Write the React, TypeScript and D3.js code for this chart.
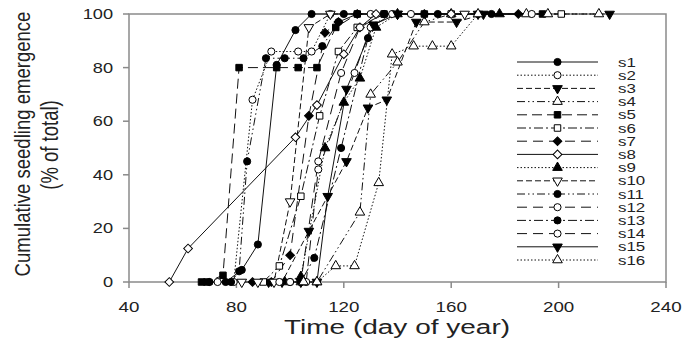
import React from "react";
import * as d3 from "d3";

const WIDTH = 683;
const HEIGHT = 343;
const PLOT = { left: 129, right: 666, top: 14, bottom: 282 };
const FONT = "'Liberation Sans', Arial, sans-serif";

// day of year, cumulative emergence (%)
const s1 = [[70, 0], [76, 0], [82, 4.5], [88, 14], [95, 81], [102, 94], [108, 100], [120, 100], [135, 100]];
const s2 = [[73, 0], [79, 0], [86, 68], [93, 86], [103, 86], [108, 86], [115, 100], [130, 100], [145, 100]];
const s3 = [[92, 0], [97, 0], [107, 19], [121, 45], [129, 65], [136, 68], [147, 97], [162, 97], [172, 100], [219, 100]];
const s4 = [[104, 0], [110, 0], [126, 26], [130, 70], [140, 82], [150, 97], [160, 100], [188, 100]];
const s5 = [[67, 0], [69, 0], [75, 2.5], [81, 80], [95, 80], [103, 80], [110, 80], [117, 95], [125, 100], [150, 100], [194, 100]];
const s6 = [[90, 0], [96, 6], [104, 32], [111, 62], [118, 86], [125, 95], [135, 100], [160, 100], [201, 100]];
const s7 = [[86, 0], [93, 0], [100, 10], [107, 62], [113, 93], [118, 97], [125, 100], [150, 100], [185, 100]];
const s8 = [[55, 0], [62, 12.5], [102, 54], [110, 66], [120, 85], [126, 95], [132, 100], [160, 100]];
const s9 = [[98, 0], [104, 2], [113, 50], [120, 67], [126, 76], [132, 95], [140, 100], [178, 100]];
const s10 = [[82, 0], [88, 0], [94, 0], [100, 30], [107, 95], [115, 100], [140, 100], [165, 100]];
const s11 = [[78, 0], [81, 4], [84, 45], [91, 83.5], [98, 83.5], [105, 83.5], [112, 88], [118, 97], [125, 100], [155, 100]];
const s12 = [[96, 0], [104, 0], [110.5, 45], [119, 78], [126, 95], [135, 100], [170, 100]];
const s13 = [[100, 0], [104, 0], [109, 9], [119, 50], [129, 91], [135, 100], [175, 100]];
const s14 = [[100, 0], [106, 0], [110.5, 42], [124, 78], [130, 95], [138, 100], [190, 100]];
const s15 = [[104, 0], [110, 0], [114, 32], [121, 72], [131, 96], [140, 100], [170, 100]];
const s16 = [[105, 0], [110, 0], [117, 6], [124, 6], [133, 37], [138, 85], [146, 88], [153, 88], [160, 88], [170, 100], [196, 100], [215, 100]];

const seriesNames = ["s1", "s2", "s3", "s4", "s5", "s6", "s7", "s8", "s9", "s10", "s11", "s12", "s13", "s14", "s15", "s16"];
const seriesData = [s1, s2, s3, s4, s5, s6, s7, s8, s9, s10, s11, s12, s13, s14, s15, s16];

const xTicks = [40, 80, 120, 160, 200, 240];
const yTicks = [0, 20, 40, 60, 80, 100];

// line dash + marker per series
const dashes = ["", "1.5,2", "6,3", "8,3,1.5,3,1.5,3", "10,5", "9,3,2,3", "10,6", "", "1.5,2", "6,3", "8,3,1.5,3,1.5,3", "10,6", "9,3,2,3", "10,6", "", "1.5,2"];
const shapes = ["circle", "circle", "down", "up", "square", "square", "diamond", "diamond", "up", "down", "circle", "circle", "circle", "circle", "down", "up"];
const filled = [true, false, true, false, true, false, true, false, true, false, true, false, true, false, true, false];

const symbolPath = (shape: string) => {
  if (shape === "circle") return d3.symbol().type(d3.symbolCircle).size(40)()!;
  if (shape === "square") return d3.symbol().type(d3.symbolSquare).size(42)()!;
  if (shape === "diamond") return d3.symbol().type(d3.symbolSquare).size(38)()!;
  return d3.symbol().type(d3.symbolTriangle).size(40)()!;
};

const symbolRotate = (shape: string) => (shape === "down" ? 180 : shape === "diamond" ? 45 : 0);

const Marker = ({ x, y, i }: { x: number; y: number; i: number }) => (
  <path
    d={symbolPath(shapes[i])}
    transform={`translate(${x},${y}) rotate(${symbolRotate(shapes[i])})`}
    fill={filled[i] ? "#000" : "#fff"}
    stroke="#000"
    strokeWidth={1}
  />
);

export default function App() {
  const x = d3.scaleLinear().domain([40, 240]).range([PLOT.left, PLOT.right]);
  const y = d3.scaleLinear().domain([0, 100]).range([PLOT.bottom, PLOT.top]);
  const line = d3.line<number[]>().x((d) => x(d[0])).y((d) => y(d[1]));

  const legendX0 = 517;
  const legendX1 = 598;
  const legendY = d3.scaleLinear().domain([0, 15]).range([62, 260]);

  return (
    <svg width={WIDTH} height={HEIGHT} style={{ position: "absolute", left: 0, top: 0 }} fontFamily={FONT}>
      <rect width={WIDTH} height={HEIGHT} fill="#fff" />

      {/* frame */}
      <rect x={PLOT.left} y={PLOT.top} width={PLOT.right - PLOT.left} height={PLOT.bottom - PLOT.top}
        fill="none" stroke="#8a8a8a" strokeWidth={1.5} />

      {/* y axis */}
      {yTicks.map((t) => (
        <g key={"y" + t}>
          <line x1={PLOT.left - 6} x2={PLOT.left} y1={y(t)} y2={y(t)} stroke="#8a8a8a" strokeWidth={1.5} />
          <text transform={`translate(${PLOT.left - 16},${y(t) + 5}) scale(1.3,1)`} textAnchor="end" fontSize={14} fill="#222">{t}</text>
        </g>
      ))}

      {/* x axis */}
      {xTicks.map((t) => (
        <g key={"x" + t}>
          <line x1={x(t)} x2={x(t)} y1={PLOT.bottom} y2={PLOT.bottom + 6} stroke="#8a8a8a" strokeWidth={1.5} />
          <text transform={`translate(${x(t)},${312}) scale(1.25,1)`} textAnchor="middle" fontSize={15} fill="#222">{t}</text>
        </g>
      ))}

      <text transform={`translate(397,334) scale(1.4,1)`} textAnchor="middle" fontSize={20} fill="#222">Time (day of year)</text>
      <text transform={`translate(30,144) rotate(-90) scale(1.03,1.25)`} textAnchor="middle" fontSize={18} fill="#222">Cumulative seedling emergence</text>
      <text transform={`translate(58,145) rotate(-90) scale(1,1.25)`} textAnchor="middle" fontSize={18.5} fill="#222">(% of total)</text>

      {/* series lines */}
      {seriesData.map((d, i) => (
        <path key={"l" + i} d={line(d)!} fill="none" stroke="#111" strokeWidth={1} strokeDasharray={dashes[i]} />
      ))}
      {/* series markers */}
      {seriesData.map((d, i) => (
        <g key={"m" + i}>
          {d.map((p, j) => <Marker key={j} x={x(p[0])} y={y(p[1])} i={i} />)}
        </g>
      ))}

      {/* legend */}
      {seriesNames.map((name, i) => (
        <g key={"lg" + name}>
          <line x1={legendX0} x2={legendX1} y1={legendY(i)} y2={legendY(i)} stroke="#111" strokeWidth={1} strokeDasharray={dashes[i]} />
          <Marker x={(legendX0 + legendX1) / 2} y={legendY(i)} i={i} />
          <text transform={`translate(618,${legendY(i) + 4.5}) scale(1.3,1)`} fontSize={13} fill="#222">{name}</text>
        </g>
      ))}
    </svg>
  );
}
